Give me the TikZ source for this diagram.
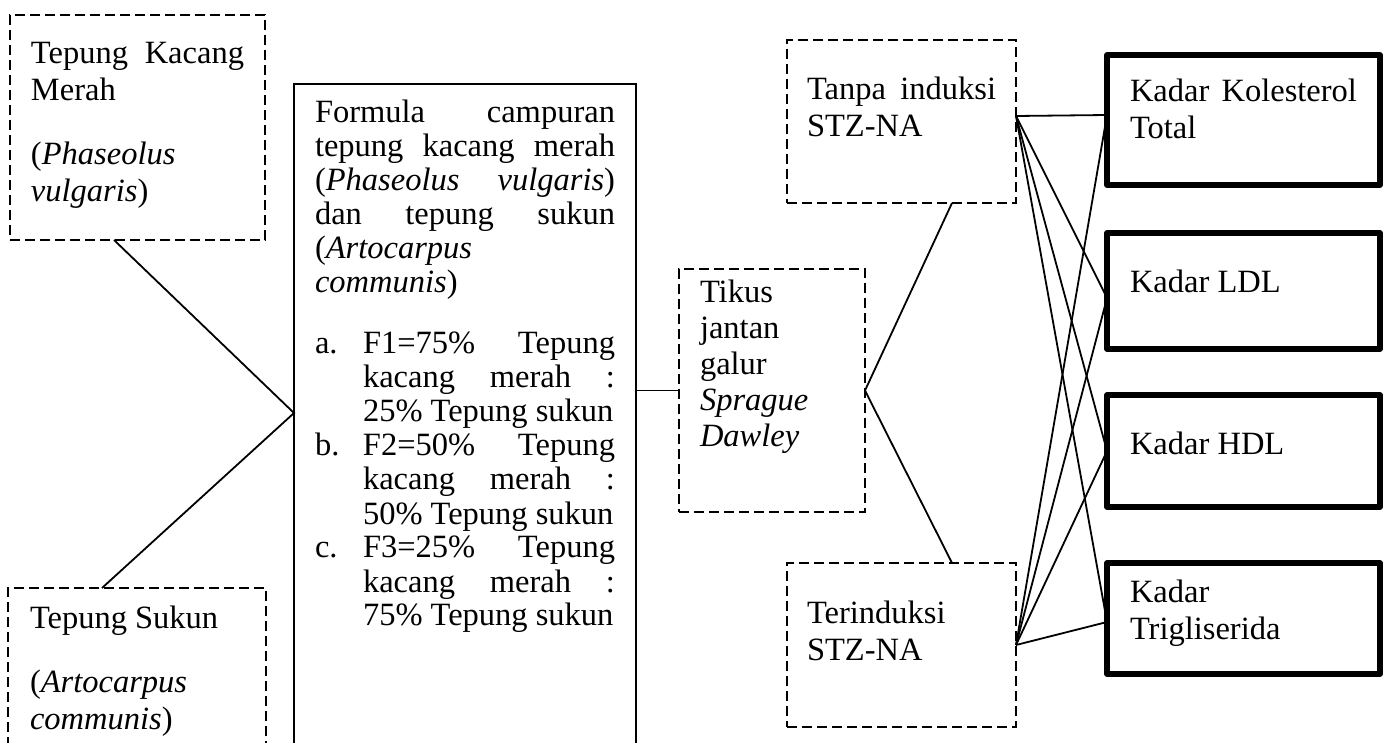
\documentclass[tikz,border=0pt]{standalone}
\usepackage{fontspec}
\setmainfont{Liberation Serif}
\tolerance=10000
\hyphenpenalty=10000
\exhyphenpenalty=10000
\hbadness=10000

\newcommand{\spasi}{\par\vspace{13.5pt}}
\newcommand{\butir}[2]{\par\hangindent=24pt\hangafter=1\noindent\makebox[24pt][l]{#1}#2\par}

\begin{document}
\begin{tikzpicture}[x=0.5pt, y=-0.5pt,
		font=\fontsize{16.25pt}{18.5pt}\selectfont,
		kotak/.style={draw, anchor=north west, outer sep=0pt, inner xsep=10.5pt, inner ysep=0pt, align=justify},
		putus/.style={kotak, line width=1pt, dash pattern=on 5pt off 2.5pt},
		polos/.style={kotak, line width=1pt},
		tebal/.style={kotak, line width=2.75pt, inner xsep=11.5pt, line join=round, text width=113.5pt},
		garis/.style={line width=0.9pt}]
	\useasboundingbox (0,0) rectangle (1390,743);
	\clip (0,0) rectangle (1390,743);

	% bahan
	\node[putus, text width=106.5pt, text height=24.5pt, text depth=88pt] (merah) at (10,15)
		{Tepung Kacang\linebreak Merah\spasi (\textit{Phaseolus}\linebreak \textit{vulgaris})};
	\node[putus, inner xsep=11pt, text width=107pt, text height=20pt, text depth=105pt] (sukun) at (8,588)
		{Tepung Sukun\spasi (\textit{Artocarpus}\linebreak \textit{communis})};

	% formula
	\node[polos, font=\fontsize{16.25pt}{17pt}\selectfont, text width=150pt, text height=19.5pt, text depth=360.5pt] (formula) at (294,84)
		{Formula campuran\linebreak tepung kacang merah\linebreak (\textit{Phaseolus} \textit{vulgaris})\linebreak
		dan tepung sukun\linebreak (\textit{Artocarpus}\linebreak \textit{communis})\spasi
		\butir{a.}{F1=75\% Tepung\linebreak kacang merah :\linebreak 25\% Tepung sukun}
		\butir{b.}{F2=50\% Tepung\linebreak kacang merah :\linebreak 50\% Tepung sukun}
		\butir{c.}{F3=25\% Tepung\linebreak kacang merah :\linebreak 75\% Tepung sukun}};

	% hewan uji
	\node[putus, font=\fontsize{16.25pt}{18pt}\selectfont, text width=72pt, text height=16.5pt, text depth=105pt] (tikus) at (679,269)
		{Tikus\linebreak jantan\linebreak galur\linebreak \textit{Sprague}\linebreak \textit{Dawley}};
	\node[putus, inner xsep=10pt, text width=94.5pt, text height=30pt, text depth=51.5pt] (tanpa) at (787,40)
		{Tanpa induksi\linebreak STZ-NA};
	\node[putus, inner xsep=10pt, text width=94.5pt, text height=30pt, text depth=52pt] (terinduksi) at (787,563)
		{Terinduksi\linebreak STZ-NA};

	% parameter
	\node[tebal, text height=23.5pt, text depth=41.5pt] (kolesterol) at (1107,55) {Kadar Kolesterol\linebreak Total};
	\node[tebal, text height=29.5pt, text depth=28.5pt] (ldl) at (1107,233) {Kadar LDL};
	\node[tebal, text height=29.5pt, text depth=26.5pt] (hdl) at (1107,395) {Kadar HDL};
	\node[tebal, text height=19.5pt, text depth=36pt] (trig) at (1107,563) {Kadar\linebreak Trigliserida};

	% garis
	\coordinate (simpul) at ([yshift=-164.5pt]formula.north west);
	\coordinate (tanpa-k) at ([yshift=2.75pt]tanpa.east);
	\coordinate (kolesterol-k) at ([yshift=2.5pt]kolesterol.west);
	\coordinate (ldl-k) at ([yshift=-3.5pt]ldl.west);
	\coordinate (trig-k) at ([yshift=-1.75pt]trig.west);

	\draw[garis] ([xshift=-11.75pt]merah.south) -- (simpul) -- ([xshift=-17.5pt]sukun.north);
	\draw[garis] (formula.east |- tikus.west) -- (tikus.west);
	\draw[garis] ([xshift=25.25pt]tanpa.south) -- (tikus.east) -- ([xshift=25.25pt]terinduksi.north);

	\draw[garis] (tanpa-k) -- (kolesterol-k);
	\draw[garis] (tanpa-k) -- (ldl-k);
	\draw[garis] (tanpa-k) -- (hdl.west);
	\draw[garis] (tanpa-k) -- (trig-k);
	\draw[garis] (terinduksi.east) -- (kolesterol-k);
	\draw[garis] (terinduksi.east) -- (ldl-k);
	\draw[garis] (terinduksi.east) -- (hdl.west);
	\draw[garis] (terinduksi.east) -- (trig-k);
\end{tikzpicture}
\end{document}
